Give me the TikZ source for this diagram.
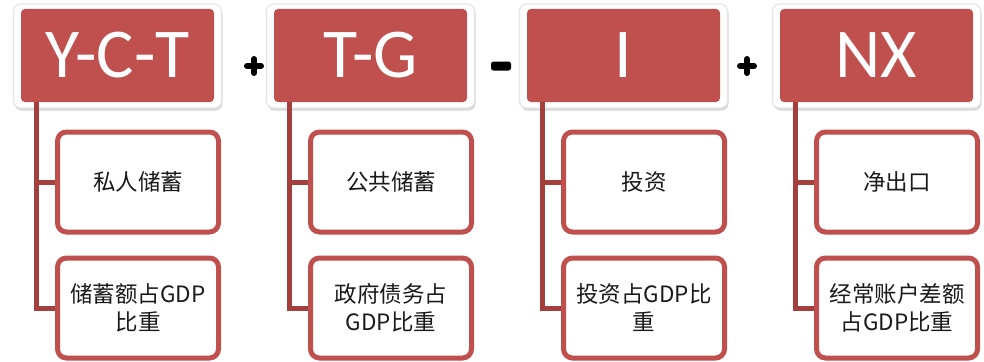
\documentclass[tikz,border=0pt]{standalone}
\usepackage{fontspec}
\setmainfont{Carlito}
\newfontfamily\cjk{Noto Sans CJK SC}
\usetikzlibrary{shadows,calc}
\definecolor{hdred}{HTML}{C0504D}
\definecolor{lnred}{HTML}{A33F3D}
\definecolor{txtgray}{HTML}{1A1A1A}
\tikzset{
  frame/.style={fill=white, draw=black!10, line width=1.2pt, rounded corners=7pt,
    minimum width=208pt, minimum height=104pt,
    drop shadow={shadow xshift=1pt, shadow yshift=-2.5pt, fill=black!30, opacity=0.5}},
  header/.style={fill=hdred, rounded corners=4pt, minimum width=193pt, minimum height=93pt,
    text=white, font=\fontsize{70}{70}\selectfont, inner sep=0pt},
  child/.style={draw=hdred, line width=5pt, fill=white, rounded corners=9pt,
    minimum width=161pt, minimum height=100pt, text width=150pt, align=center,
    text=txtgray, font=\cjk\fontsize{22.5}{28}\selectfont, inner sep=0pt},
  conn/.style={draw=lnred, line width=5pt},
  opsym/.style={line width=6pt, black, line cap=round}
}
\begin{document}
\begin{tikzpicture}[x=1pt,y=-1pt]
\useasboundingbox (0,0) rectangle (984,361);
\foreach \i/\t/\a/\b in {0/Y-C-T/私人储蓄/{储蓄额占GDP\\比重},
                          1/T-G/公共储蓄/{政府债务占\\GDP比重},
                          2/I/投资/{投资占GDP比\\重},
                          3/NX/净出口/{经常账户差额\\占GDP比重}}{
  \pgfmathsetmacro{\cx}{117.5+253*\i}
  \pgfmathsetmacro{\kx}{138+253*\i}
  \node[frame] (f\i) at (\cx,56) {};
  \node[header] (h\i) at (\cx,55.5) {\t};
  \node[child] (c\i) at (\kx,182) {\a};
  \node[child] (d\i) at (\kx,308) {\b};
  \coordinate (v\i) at ($(h\i.south west)+(16,0)$);
  \draw[conn] (v\i) |- (c\i.west);
  \draw[conn] (v\i) |- (d\i.west);
}
% operators
\draw[opsym] (247,66) -- (261,66) (254,59) -- (254,73);
\fill[black, rounded corners=2.5pt] (491,61.5) rectangle (511,70.5);
\draw[opsym] (740,66) -- (754,66) (747,59) -- (747,73);
\end{tikzpicture}
\end{document}
